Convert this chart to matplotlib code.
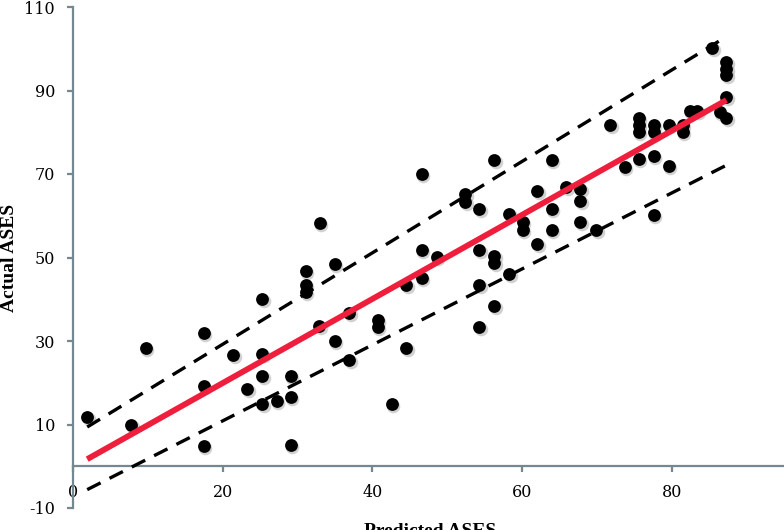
import matplotlib
matplotlib.use("Agg")
import matplotlib.pyplot as plt
import matplotlib.transforms as mtransforms

# data
predicted = [1.9, 7.8, 9.7, 17.5, 17.5, 17.5, 21.4, 23.3, 25.3, 25.3, 25.3, 25.3,
             27.2, 29.1, 29.1, 29.1, 31.1, 31.1, 31.1, 33.0, 32.9, 35.0, 35.0,
             36.9, 36.9, 40.7, 40.7, 42.6, 44.5, 44.5, 46.6, 46.6, 46.6, 48.6,
             52.4, 52.4, 54.3, 54.3, 54.3, 54.3, 56.3, 56.3, 56.3, 56.3, 58.3,
             58.3, 60.1, 60.1, 62.0, 62.0, 64.0, 64.0, 64.0, 65.9, 67.8, 67.8,
             67.8, 69.9, 71.8, 73.7, 75.6, 75.6, 75.6, 75.6, 77.6, 77.6, 77.6,
             77.6, 79.6, 79.6, 81.5, 81.5, 82.4, 83.4, 85.4, 86.4, 87.3, 87.3,
             87.3, 87.3, 87.3]
actual = [11.7, 10.0, 28.3, 31.8, 19.2, 4.9, 26.7, 18.4, 40.0, 26.8, 21.6, 15.0,
          15.7, 21.6, 16.6, 5.0, 46.7, 43.4, 41.8, 58.3, 33.5, 48.4, 30.0,
          36.8, 25.4, 35.0, 33.4, 15.0, 43.3, 28.3, 70.0, 51.8, 45.1, 50.1,
          65.2, 63.4, 61.7, 51.7, 43.5, 33.4, 73.3, 50.3, 48.6, 38.4, 60.4,
          46.1, 58.4, 56.6, 65.9, 53.3, 73.3, 61.7, 56.7, 66.9, 66.5, 63.5,
          58.4, 56.7, 81.7, 71.7, 83.5, 81.7, 80.0, 73.5, 81.7, 80.0, 74.3,
          60.1, 81.7, 71.9, 81.7, 80.0, 85.2, 85.2, 100.1, 84.9, 96.8, 95.2,
          93.6, 88.5, 83.5]

# fit and interval lines (end points)
line_x = [1.9, 87.3]
fit_y = [1.7, 87.7]
upper_y = [9.4, 102.9]
lower_y = [-5.6, 72.1]

yticks = [-10, 10, 30, 50, 70, 90, 110]
xticks = [0, 20, 40, 60, 80]

plt.rcParams['font.family'] = ['DejaVu Serif']
plt.rcParams['axes.unicode_minus'] = False

fig = plt.figure(figsize=(7.84, 5.30), dpi=100)
ax = fig.add_axes([73 / 784, 1 - 508 / 530, 1 - 73 / 784, (508 - 7) / 530])

# dots with a soft shadow
shadow = mtransforms.offset_copy(ax.transData, fig=fig, x=1.5, y=-2, units='dots')
ax.scatter(predicted, actual, s=95, color='#9a9a9a', alpha=0.45,
           linewidths=0, transform=shadow, zorder=2)
ax.scatter(predicted, actual, s=85, color='black', linewidths=0, zorder=3)

ax.plot(line_x, upper_y, color='black', lw=2.4, linestyle=(0, (4.5, 3)),
        dash_capstyle='butt', zorder=4)
ax.plot(line_x, lower_y, color='black', lw=2.4, linestyle=(0, (4.5, 3)),
        dash_capstyle='butt', zorder=4)
ax.plot(line_x, fit_y, color='#EE1E3C', lw=4.2, solid_capstyle='butt', zorder=5)

ax.set_xlim(0, 95)
ax.set_ylim(-10, 110)
ax.set_xticks(xticks)
ax.set_yticks(yticks)

spine_col = '#758890'
for s in ['top', 'right']:
    ax.spines[s].set_visible(False)
ax.spines['bottom'].set_position(('data', 0))
for s in ['left', 'bottom']:
    ax.spines[s].set_color(spine_col)
    ax.spines[s].set_linewidth(1.6)
ax.tick_params(axis='both', colors=spine_col, direction='out', length=4,
               width=1.6, labelcolor='black', labelsize=11.5)
ax.tick_params(axis='x', pad=9)
ax.tick_params(axis='y', pad=9)

fig.text(0.012, 1 - 258 / 530, 'Actual ASES', rotation=90, ha='center',
         va='center', fontsize=14, fontweight='bold', family='Liberation Serif')
fig.text(430 / 784, 1 - 523 / 530, 'Predicted ASES', ha='center', va='top',
         fontsize=14, fontweight='bold', family='Liberation Serif')

fig.savefig('out.png', dpi=100)
